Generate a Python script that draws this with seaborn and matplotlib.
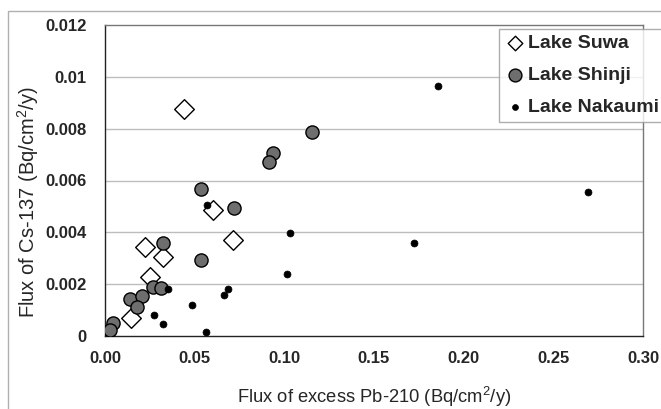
import matplotlib
matplotlib.use("Agg")
import matplotlib.pyplot as plt
import seaborn as sns
import pandas as pd
from matplotlib.patches import Rectangle

# Data
suwa_x = [0.0442, 0.0604, 0.0716, 0.0223, 0.0325, 0.0251, 0.0143]
suwa_y = [0.00876, 0.00486, 0.00370, 0.00345, 0.00306, 0.00226, 0.00071]
shinji_x = [0.1153, 0.0939, 0.0914, 0.0534, 0.0719, 0.0322, 0.0534, 0.0266,
            0.0312, 0.0139, 0.0205, 0.0180, 0.0046, 0.0028]
shinji_y = [0.00786, 0.00705, 0.00670, 0.00568, 0.00493, 0.00358, 0.00293,
            0.00190, 0.00186, 0.00143, 0.00154, 0.00110, 0.00051, 0.00023]
nakaumi_x = [0.1855, 0.2695, 0.1725, 0.0571, 0.1032, 0.1017, 0.0353, 0.0688,
             0.0665, 0.0487, 0.0273, 0.0322, 0.0563]
nakaumi_y = [0.00965, 0.00557, 0.00358, 0.00505, 0.00396, 0.00238, 0.00180,
             0.00180, 0.00158, 0.00120, 0.00081, 0.00045, 0.00017]
xticks = [0.00, 0.05, 0.10, 0.15, 0.20, 0.25, 0.30]
xtick_labels = ["0.00", "0.05", "0.10", "0.15", "0.20", "0.25", "0.30"]
yticks = [0, 0.002, 0.004, 0.006, 0.008, 0.010, 0.012]
ytick_labels = ["0", "0.002", "0.004", "0.006", "0.008", "0.01", "0.012"]

sns.set_style("white")
plt.rcParams["font.family"] = ["Liberation Sans", "DejaVu Sans"]
plt.rcParams["mathtext.default"] = "regular"

fig = plt.figure(figsize=(6.61, 4.09), dpi=100)
ax = fig.add_axes([105/661, 73/409, 538/661, 311/409])

# outer chart border
fig.patches.append(Rectangle((8/661, -0.01), 1.0, (409-11)/409 + 0.01,
                             transform=fig.transFigure, fill=False,
                             edgecolor="#b0b0b0", linewidth=1.0))

df_su = pd.DataFrame({"x": suwa_x, "y": suwa_y})
df_sh = pd.DataFrame({"x": shinji_x, "y": shinji_y})
df_na = pd.DataFrame({"x": nakaumi_x, "y": nakaumi_y})

sns.scatterplot(data=df_su, x="x", y="y", ax=ax, marker="D", s=100,
                color="white", edgecolor="black", linewidth=1.0, label="Lake Suwa", zorder=3)
sns.scatterplot(data=df_sh, x="x", y="y", ax=ax, marker="o", s=90,
                color="#6e6e6e", edgecolor="black", linewidth=1.0, label="Lake Shinji", zorder=3)
sns.scatterplot(data=df_na, x="x", y="y", ax=ax, marker="o", s=25,
                color="black", edgecolor="black", linewidth=0.5, label="Lake Nakaumi", zorder=3)

ax.set_xlim(0, 0.30)
ax.set_ylim(0, 0.012)
ax.set_xticks(xticks)
ax.set_xticklabels(xtick_labels, fontsize=12, fontweight="bold")
ax.set_yticks(yticks)
ax.set_yticklabels(ytick_labels, fontsize=12, fontweight="bold")
ax.tick_params(axis="x", direction="in", length=4, color="#a0a0a0", pad=11)
ax.tick_params(axis="y", length=0, pad=13)
for y in yticks[1:-1]:
    ax.axhline(y, color="#bdbdbd", linewidth=1.0, zorder=1)

for side in ["left", "bottom"]:
    ax.spines[side].set_color("#222222")
    ax.spines[side].set_linewidth(1.0)
for side in ["top", "right"]:
    ax.spines[side].set_color("#777777")
    ax.spines[side].set_linewidth(1.0)

ax.set_xlabel("Flux of excess Pb-210 (Bq/cm$^2$/y)", fontsize=13.2)
ax.xaxis.set_label_coords(0.5, -(397-336)/311, transform=ax.transAxes)
ax.set_ylabel("Flux of Cs-137 (Bq/cm$^2$/y)", fontsize=14.5)
ax.yaxis.set_label_coords((28-105)/538, (336-202)/311, transform=ax.transAxes)
ax.xaxis.label.set_va("center")
ax.yaxis.label.set_va("center")

leg = ax.legend(loc="upper left", bbox_to_anchor=(499/661, (409-29)/409),
                bbox_transform=fig.transFigure, frameon=True, fancybox=False,
                prop={"weight": "bold", "size": 14},
                handletextpad=0.2, borderaxespad=0, borderpad=0.3,
                labelspacing=0.72, handlelength=1.0)
leg.get_frame().set_edgecolor("#999999")
leg.get_frame().set_linewidth(1.0)
for h, sz in zip(leg.legend_handles, [55, 85, 18]):
    h.set_sizes([sz])

fig.savefig("out.png", dpi=100)
